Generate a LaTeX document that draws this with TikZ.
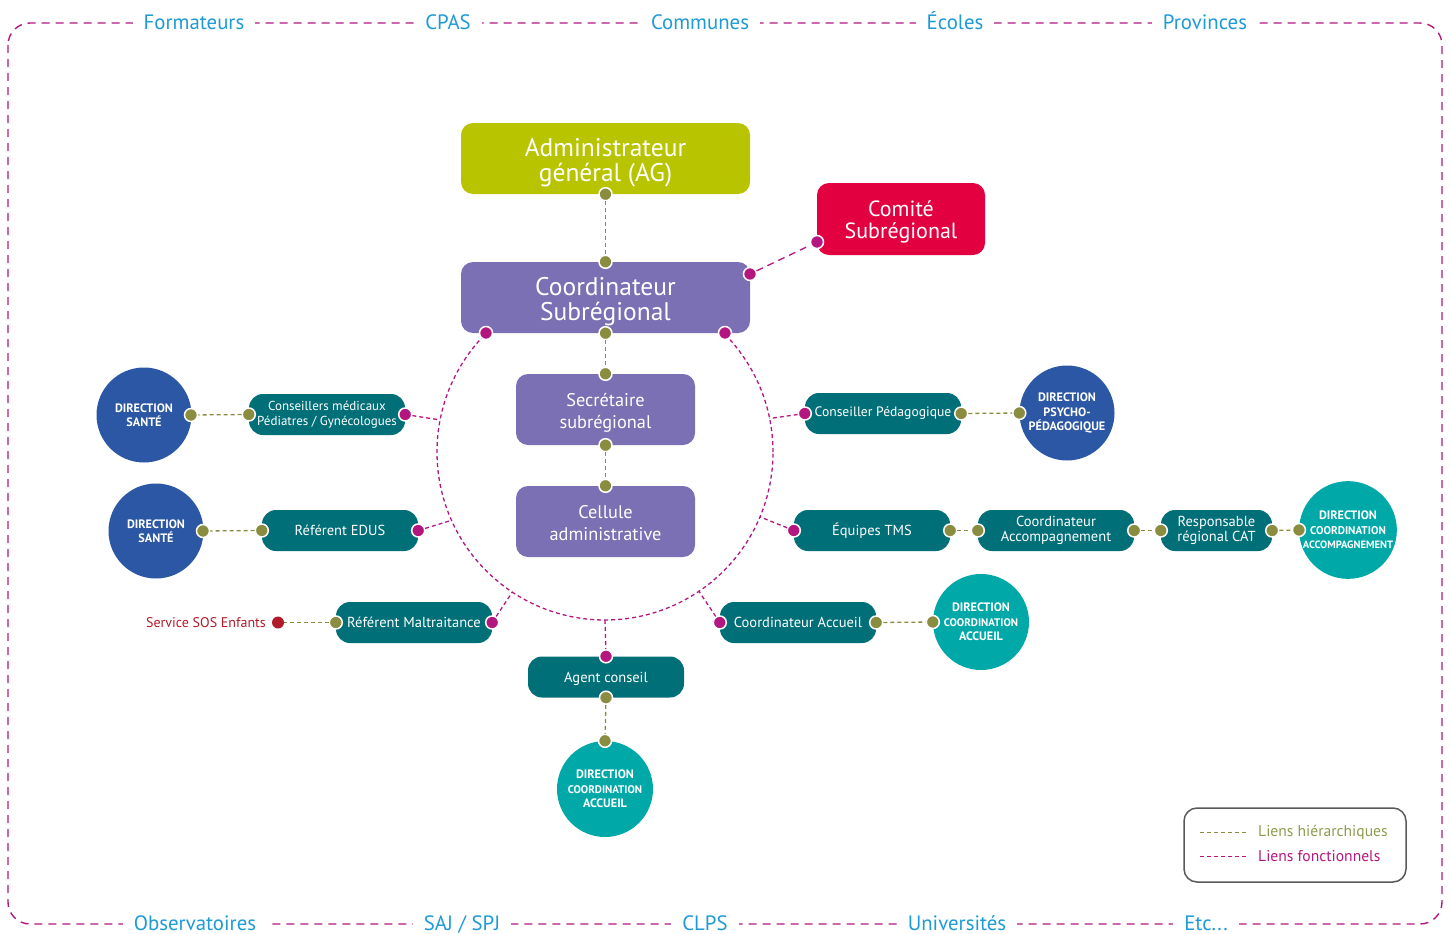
\documentclass[tikz,border=0pt]{standalone}
\usepackage{fontspec}
\setmainfont{PT Sans}
\usetikzlibrary{calc}
\definecolor{agcol}{HTML}{B9C400}
\definecolor{redcol}{HTML}{E30040}
\definecolor{purp}{HTML}{7A70B3}
\definecolor{teal}{HTML}{006F78}
\definecolor{tealL}{HTML}{00A8A8}
\definecolor{bluec}{HTML}{2B57A4}
\definecolor{olive}{HTML}{8A8C40}
\definecolor{mag}{HTML}{B3177F}
\definecolor{lblue}{HTML}{1E9BD7}
\definecolor{sosred}{HTML}{B11A2B}
\definecolor{legol}{HTML}{8E9A4C}
\begin{document}
\begin{tikzpicture}[x=1pt,y=-1pt,
  bigbox/.style={rectangle, rounded corners=12pt, inner sep=0pt, fill=purp},
  btext/.style={text=white, align=center, inner sep=0pt},
  tbox/.style={rectangle, rounded corners=14pt, text=white, align=center, inner sep=0pt, fill=teal,
     minimum width=156pt, minimum height=41pt, font=\fontsize{14.5}{15}\selectfont},
  dirc/.style={circle, text=white, align=center, inner sep=0pt, minimum size=95pt,
     font=\bfseries\fontsize{12.2}{14.5}\selectfont},
  odot/.style={circle, fill=olive, draw=white, line width=1.5pt, minimum size=13pt, inner sep=0pt},
  mdot/.style={circle, fill=mag, draw=white, line width=1.5pt, minimum size=13pt, inner sep=0pt},
  hier/.style={olive, line width=1.3pt, dash pattern=on 4pt off 3pt},
  fonc/.style={mag, line width=1.3pt, dash pattern=on 4pt off 3pt},
  edge/.style={anchor=base, fill=white, text=lblue, inner xsep=11pt, inner ysep=0pt, font=\fontsize{20.8}{22}\selectfont}
]
\useasboundingbox (0,0) rectangle (1451,934);
% outer border
\draw[mag, line width=1.4pt, dash pattern=on 8pt off 6pt, rounded corners=22pt] (8,23) rectangle (1442,924);
\node[edge] (t1) at (194,30) {Formateurs};
\node[edge] (t2) at (448,30) {CPAS};
\node[edge] (t3) at (700,30) {Communes};
\node[edge] (t4) at (955,30) {Écoles};
\node[edge] (t5) at (1205,30) {Provinces};
\node[edge] (b1) at (195,930) {Observatoires};
\node[edge] (b2) at (462,930) {SAJ / SPJ};
\node[edge] (b3) at (705,930) {CLPS};
\node[edge] (b4) at (957,930) {Universités};
\node[edge] (b5) at (1206,930) {Etc...};

% central circle
\coordinate (ctr) at (605,452);
\draw[fonc] (ctr) circle (168pt);
\coordinate (cA) at ($(ctr)+(191:168)$);
\coordinate (cB) at ($(ctr)+(156:168)$);
\coordinate (cC) at ($(ctr)+(123.5:168)$);
\coordinate (cD) at ($(ctr)+(90:168)$);
\coordinate (cE) at ($(ctr)+(56:168)$);
\coordinate (cF) at ($(ctr)+(22.7:168)$);
\coordinate (cG) at ($(ctr)+(-11.5:168)$);

% main boxes
\node[bigbox, fill=agcol, minimum width=289pt, minimum height=71pt] (ag) at (605.5,158.5) {};
\node[btext, font=\fontsize{25.5}{25}\selectfont] (agT) at ([yshift=-4pt]ag.center) {Administrateur\\général (AG)};
\node[bigbox, fill=redcol, minimum width=168pt, minimum height=72pt] (com) at (901,219) {};
\node[btext, font=\fontsize{22}{22}\selectfont] (comT) at ([yshift=-2.5pt]com.center) {Comité\\Subrégional};
\node[bigbox, minimum width=289pt, minimum height=71pt] (coord) at (605.5,297.5) {};
\node[btext, font=\fontsize{25.5}{25}\selectfont] (coordT) at ([yshift=-4.5pt]coord.center) {Coordinateur\\Subrégional};
\node[bigbox, minimum width=179pt, minimum height=71pt] (sec) at (605.5,409.5) {};
\node[btext, font=\fontsize{18.3}{22}\selectfont] (secT) at ([yshift=-3pt]sec.center) {Secrétaire\\subrégional};
\node[bigbox, minimum width=179pt, minimum height=71pt] (cel) at (605.5,521.5) {};
\node[btext, font=\fontsize{18.3}{22}\selectfont] (celT) at ([yshift=-2pt]cel.center) {Cellule\\administrative};

% teal boxes
\node[tbox, font=\fontsize{13}{14.5}\selectfont] (cons) at (327,414.5) {Conseillers médicaux\\Pédiatres / Gynécologues};
\node[tbox] (edus) at (340,530.5) {Référent EDUS};
\node[tbox] (malt) at (414,622.5) {Référent Maltraitance};
\node[tbox] (agent) at (606,677) {};
\node[btext, font=\fontsize{14.5}{15}\selectfont] (agentT) at ([yshift=-1.5pt]agent.center) {Agent conseil};
\node[tbox, font=\fontsize{13.6}{15}\selectfont] (peda) at (883,413.5) {Conseiller Pédagogique};
\node[tbox] (tms) at (872,530.5) {Équipes TMS};
\node[tbox] (coacc) at (1056,530.5) {Coordinateur\\Accompagnement};
\node[tbox, minimum width=111pt] (cat) at (1216.5,530.5) {Responsable\\régional CAT};
\node[tbox] (coacl) at (798,622.5) {Coordinateur Accueil};

% direction circles
\node[dirc, fill=bluec] (ds1) at (144,415) {DIRECTION\\SANTÉ};
\node[dirc, fill=bluec] (ds2) at (156,531) {DIRECTION\\SANTÉ};
\node[dirc, fill=bluec] (dpp) at (1067,413) {DIRECTION\\PSYCHO-\\PÉDAGOGIQUE};
\node[dirc, fill=tealL, minimum size=96pt] (dca) at (1348,530) {DIRECTION\\{\fontsize{11.2}{14.5}\selectfont COORDINATION}\\{\fontsize{10.6}{14.5}\selectfont ACCOMPAGNEMENT}};
\node[dirc, fill=tealL, minimum size=96pt] (dcl1) at (981,622) {DIRECTION\\{\fontsize{11}{14.5}\selectfont COORDINATION}\\ACCUEIL};
\node[dirc, fill=tealL, minimum size=96pt] (dcl2) at (605,789) {DIRECTION\\{\fontsize{11}{14.5}\selectfont COORDINATION}\\ACCUEIL};

% SOS
\node[anchor=east, inner sep=0pt, text=sosred, font=\fontsize{14}{15}\selectfont] (sos) at (266,622.5) {Service SOS Enfants};

% dots
\node[odot] (agS) at (ag.south) {};
\node[odot] (coN) at (coord.north) {};
\node[odot] (coS) at (coord.south) {};
\node[mdot] (coL) at (486,333) {};
\node[mdot] (coR) at (725,333) {};
\node[mdot] (coE) at (750,274) {};
\node[mdot] (comW) at (817,242) {};
\node[odot] (secN) at (sec.north) {};
\node[odot] (secS) at (sec.south) {};
\node[odot] (celN) at (cel.north) {};

\node[mdot] (consE) at (cons.east) {};
\node[odot] (consW) at (cons.west) {};
\node[odot] (ds1E) at (191,415) {};
\node[mdot] (edusE) at (edus.east) {};
\node[odot] (edusW) at (edus.west) {};
\node[odot] (ds2E) at (203,531) {};
\node[mdot] (maltE) at (malt.east) {};
\node[odot] (maltW) at (malt.west) {};
\node[circle, fill=sosred, minimum size=12pt, inner sep=0pt] (sosD) at (278,622.5) {};
\node[mdot] (agN) at (agent.north) {};
\node[odot] (agSo) at (agent.south) {};
\node[odot] (dcl2N) at (dcl2.north) {};

\node[mdot] (pedaW) at (peda.west) {};
\node[odot] (pedaE) at (peda.east) {};
\node[odot] (dppW) at (dpp.west) {};
\node[mdot] (tmsW) at (tms.west) {};
\node[odot] (tmsE) at (tms.east) {};
\node[odot] (coaccW) at (coacc.west) {};
\node[odot] (coaccE) at (coacc.east) {};
\node[odot] (catW) at (cat.west) {};
\node[odot] (catE) at (cat.east) {};
\node[odot] (dcaW) at (dca.west) {};
\node[mdot] (coaclW) at (coacl.west) {};
\node[odot] (coaclE) at (coacl.east) {};
\node[odot] (dcl1W) at (dcl1.west) {};

% connectors
\draw[hier] (agS) -- (coN);
\draw[hier] (coS) -- (secN);
\draw[hier] (secS) -- (celN);
\draw[fonc, dash pattern=on 7pt off 5pt] (coE) -- (comW);
\draw[fonc] (consE) -- (cA);
\draw[hier] (consW) -- (ds1E);
\draw[fonc] (edusE) -- (cB);
\draw[hier] (edusW) -- (ds2E);
\draw[fonc] (maltE) -- (cC);
\draw[hier] (maltW) -- (sosD);
\draw[fonc] (cD) -- (agN);
\draw[hier] (agSo) -- (dcl2N);
\draw[fonc] (pedaW) -- (cG);
\draw[hier] (pedaE) -- (dppW);
\draw[fonc] (tmsW) -- (cF);
\draw[hier] (tmsE) -- (coaccW);
\draw[hier] (coaccE) -- (catW);
\draw[hier] (catE) -- (dcaW);
\draw[fonc] (coaclW) -- (cE);
\draw[hier] (coaclE) -- (dcl1W);

% legend
\draw[draw=black!65, line width=1.5pt, rounded corners=13pt] (1184,808) rectangle (1406,882);
\coordinate (l1a) at (1200,832);
\coordinate (l1b) at (1248,832);
\coordinate (l2a) at (1200,856);
\coordinate (l2b) at (1248,856);
\draw[olive, line width=1pt, dash pattern=on 4pt off 3pt] (l1a) -- (l1b);
\draw[mag, line width=1pt, dash pattern=on 4pt off 3pt] (l2a) -- (l2b);
\node[anchor=west, inner sep=0pt, text=legol, font=\fontsize{15.6}{16}\selectfont] (lg1) at (1258,832) {Liens hiérarchiques};
\node[anchor=west, inner sep=0pt, text=mag, font=\fontsize{15.6}{16}\selectfont] (lg2) at (1258,856) {Liens fonctionnels};
\end{tikzpicture}
\end{document}
